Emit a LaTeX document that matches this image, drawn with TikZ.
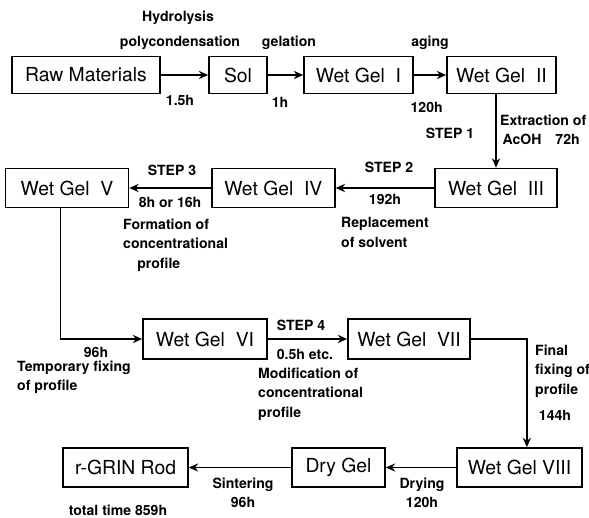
\documentclass[tikz,border=0pt]{standalone}
\usepackage{fontspec}
\setsansfont{TeX Gyre Heros}
\usetikzlibrary{arrows.meta, positioning, calc}

\begin{document}
\begin{tikzpicture}[x=1cm, y=1cm,
  gelbox/.style={draw, line width=1.4pt, minimum height=1.1cm, inner sep=0pt,
    font=\fontsize{16.5}{18}\selectfont\sffamily},
  lbl/.style={font=\fontsize{12}{16.5}\selectfont\sffamily\bfseries, inner sep=0pt, align=center},
  flow/.style={line width=1.4pt, -{Stealth[length=8pt, width=7pt]}}]

  \useasboundingbox (0,0) rectangle (17.67,15.54);

  %% Top row
  \node[gelbox, minimum width=4.44cm] (raw) at (2.58,13.29) {Raw Materials};
  \node[gelbox, minimum width=1.74cm] (sol) at (7.14,13.29) {Sol};
  \node[gelbox, minimum width=3.27cm] (wg1) at (10.755,13.29) {Wet Gel\ \ I};
  \node[gelbox, minimum width=3.27cm] (wg2) at (15.045,13.29) {Wet Gel\ \ II};

  %% Second row
  \node[gelbox, minimum width=3.66cm, minimum height=1.17cm] (wg3) at (14.88,9.9) {Wet Gel\ \ III};
  \node[gelbox, minimum width=3.69cm, minimum height=1.17cm] (wg4) at (8.2,9.9) {Wet Gel\ \ IV};
  \node[gelbox, minimum width=3.69cm, minimum height=1.17cm] (wg5) at (2.01,9.9) {Wet Gel\ \ V};

  %% Third row
  \node[gelbox, minimum width=3.72cm, minimum height=1.2cm] (wg6) at (6.15,5.37) {Wet Gel\ \ VI};
  \node[gelbox, minimum width=3.66cm, minimum height=1.2cm] (wg7) at (12.27,5.37) {Wet Gel\ \ VII};

  %% Bottom row
  \node[gelbox, minimum width=3.75cm, minimum height=1.17cm] (wg8) at (15.585,1.515) {Wet Gel VIII};
  \node[gelbox, minimum width=2.79cm, minimum height=1.17cm] (dry) at (10.155,1.515) {Dry Gel};
  \node[gelbox, minimum width=3.75cm, minimum height=1.17cm] (rod) at (3.765,1.515) {r-GRIN Rod};

  %% Connectors
  \draw[flow] (raw) -- (sol);
  \draw[flow] (sol) -- (wg1);
  \draw[flow] (wg1) -- (wg2);
  \draw[flow] (wg3.north |- wg2.south) -- (wg3.north);
  \draw[flow] (wg3) -- (wg4);
  \draw[flow] (wg4) -- (wg5);
  \draw[flow] ([xshift=-0.2cm]wg5.south) |- (wg6.west);
  \draw[flow] (wg6) -- (wg7);
  \draw[flow] (wg7.east) -| ([xshift=0.22cm]wg8.north);
  \draw[flow] (wg8) -- (dry);
  \draw[flow] (dry) -- (rod);

  %% Process labels
  \node[lbl] (hyd) at (5.34,15.0) {Hydrolysis};
  \node[lbl] (poly) at (5.4,14.25) {polycondensation};
  \node[lbl] (t1) at (5.4,12.54) {1.5h};
  \node[lbl] (gel) at (8.67,14.25) {gelation};
  \node[lbl] (t2) at (8.4,12.48) {1h};
  \node[lbl] (age) at (12.9,14.25) {aging};
  \node[lbl] (t3) at (12.8,12.33) {120h};
  \node[lbl] (s1) at (13.5,11.55) {STEP 1};
  \node[lbl, anchor=west, align=left] (ext) at (15.0,11.64) {Extraction of\\\,AcOH\quad 72h};
  \node[lbl] (s2) at (11.67,10.53) {STEP 2};
  \node[lbl] (t4) at (11.55,9.57) {192h};
  \node[lbl, anchor=west, align=left] (rep) at (10.23,8.565) {Replacement\\of solvent};
  \node[lbl] (s3) at (5.16,10.44) {STEP 3};
  \node[lbl] (t5) at (5.1,9.48) {8h or 16h};
  \node[lbl, anchor=west, align=left] (form) at (3.69,8.19) {Formation of\\concentrational\\\hspace{12pt}profile};
  \node[lbl] (t6) at (2.88,4.98) {96h};
  \node[lbl, anchor=west, align=left] (temp) at (0.51,4.215) {Temporary fixing\\of profile};
  \node[lbl] (s4) at (9.03,5.79) {STEP 4};
  \node[lbl] (t7) at (9.15,4.92) {0.5h etc.};
  \node[lbl, anchor=west, align=left] (mod) at (7.74,3.72) {Modification of\\concentrational\\profile};
  \node[lbl, anchor=west, align=left] (fin) at (16.05,4.41) {Final\\fixing of\\profile};
  \node[lbl] (t8) at (16.65,3.09) {144h};
  \node[lbl] (dryl) at (12.66,0.75) {Drying\\120h};
  \node[lbl] (sint) at (7.29,0.75) {Sintering\\96h};
  \node[lbl] (tot) at (3.54,0.24) {total time 859h};

\end{tikzpicture}
\end{document}
